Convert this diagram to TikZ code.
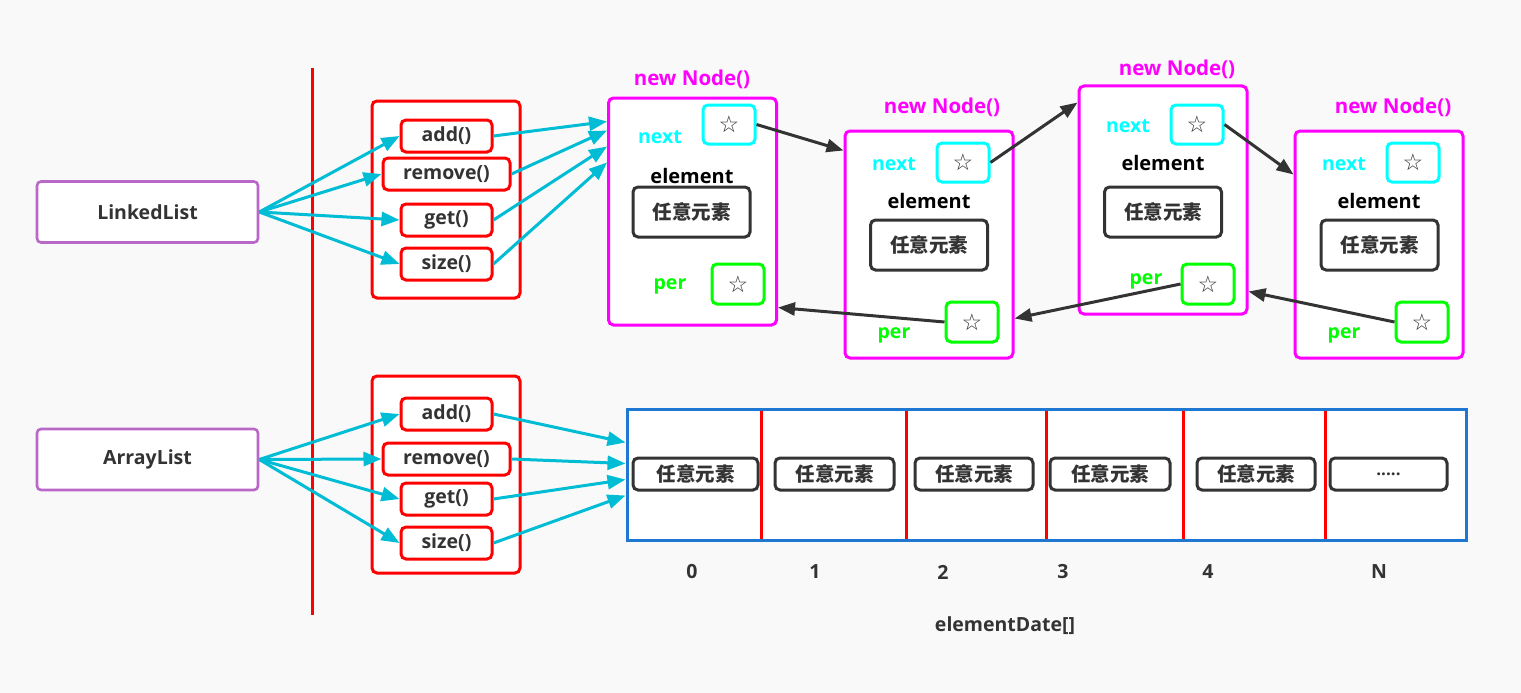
\documentclass[tikz,border=0pt]{standalone}
\usepackage{fontspec}
\setmainfont{Open Sans}
\newfontfamily\cjk{Noto Sans CJK SC}
\newfontfamily\symf{DejaVu Sans}
\usetikzlibrary{arrows.meta,calc}
\definecolor{bgc}{HTML}{F9F9F9}
\definecolor{dk}{HTML}{333333}
\definecolor{cyl}{HTML}{00BCD4}
\definecolor{mag}{HTML}{FF00FF}
\definecolor{cyt}{HTML}{00FFFF}
\definecolor{grn}{HTML}{00FF00}
\definecolor{rd}{HTML}{FF0000}
\definecolor{pur}{HTML}{BA68C8}
\definecolor{blu}{HTML}{1E78D2}
\begin{document}
\begin{tikzpicture}[x=1pt,y=-1pt,
  base/.style={inner sep=0pt, font=\fontsize{19.5}{22}\selectfont\bfseries},
  classbox/.style={base, draw=pur, line width=2.6pt, rounded corners=4pt, fill=white, text=dk, minimum width=221pt, minimum height=61pt},
  cont/.style={draw=rd, line width=3pt, rounded corners=5pt, fill=white, minimum width=148pt, minimum height=197pt, inner sep=0pt},
  meth/.style={base, draw=rd, line width=3pt, rounded corners=5pt, fill=white, text=dk, minimum width=91pt, minimum height=32pt},
  nodebox/.style={draw=mag, line width=3pt, rounded corners=5pt, fill=white, minimum width=168pt, minimum height=227pt, inner sep=0pt},
  ttl/.style={base, text=mag, font=\fontsize{20.5}{22}\selectfont\bfseries},
  nxt/.style={base, text=cyt},
  prl/.style={base, text=grn},
  ell/.style={base, text=black, font=\fontsize{20}{22}\selectfont\bfseries},
  ptrN/.style={draw=cyt, line width=3pt, rounded corners=5pt, fill=white, minimum width=52pt, minimum height=39pt, inner sep=0pt, font=\symf\fontsize{23}{24}\selectfont, text=dk},
  ptrP/.style={ptrN, draw=grn, minimum height=40pt},
  elbox/.style={draw=dk, line width=3pt, rounded corners=5pt, fill=white, minimum width=117pt, minimum height=50pt, inner sep=0pt, text=dk, font=\cjk\fontsize{19.5}{22}\selectfont\bfseries},
  cell/.style={elbox, minimum height=32pt},
  idx/.style={base, text=dk},
  carr/.style={draw=cyl, line width=3pt, -{Triangle[length=18pt,width=14pt]}},
  darr/.style={draw=dk, line width=3pt, -{Triangle[length=17pt,width=13pt]}},
]
\fill[bgc] (0,0) rectangle (1521,693);
\useasboundingbox (0,0) rectangle (1521,693);

% separator
\draw[rd, line width=3pt] (312,68) -- (312,615);

% classes
\node[classbox] (LL) at (147.5,212) {LinkedList};
\node[classbox] (AL) at (147.5,459.5) {ArrayList};

% containers
\node[cont] (C1) at (446,199.5) {};
\node[cont] (C2) at (446,474.5) {};

\node[meth] (addT) at (446.5,136) {add()};
\node[meth, minimum width=127pt] (remT) at (446.5,174) {remove()};
\node[meth] (getT) at (446.5,220) {get()};
\node[meth] (sizT) at (446.5,264) {size()};

\node[meth] (addB) at (446.5,414) {add()};
\node[meth, minimum width=127pt] (remB) at (446.5,459) {remove()};
\node[meth] (getB) at (446.5,499) {get()};
\node[meth] (sizB) at (446.5,543) {size()};

% linked list nodes
\node[nodebox] (N1) at (692.5,211.5) {};
\node[nodebox] (N2) at (929,244.5) {};
\node[nodebox, minimum height=228pt] (N3) at (1163,200) {};
\node[nodebox] (N4) at (1379,244.5) {};

\node[ttl] (t1) at (692,79) {new Node()};
\node[ttl] (t2) at (942,107) {new Node()};
\node[ttl] (t3) at (1177,69) {new Node()};
\node[ttl] (t4) at (1393,107) {new Node()};

\node[nxt] (nl1) at (660,137) {next};
\node[nxt] (nl2) at (894,164) {next};
\node[nxt] (nl3) at (1128,126) {next};
\node[nxt] (nl4) at (1344,164) {next};

\node[ptrN] (nx1) at (729,124.5) {☆};
\node[ptrN] (nx2) at (963,162.5) {☆};
\node[ptrN] (nx3) at (1197,124.5) {☆};
\node[ptrN] (nx4) at (1413,162.5) {☆};

\node[ell] (el1) at (692,176) {element};
\node[ell] (el2) at (929,201) {element};
\node[ell] (el3) at (1163,163) {element};
\node[ell] (el4) at (1379,201) {element};

\node[elbox] (eb1) at (691.5,212) {任意元素};
\node[elbox] (eb2) at (929,245) {任意元素};
\node[elbox] (eb3) at (1163,212) {任意元素};
\node[elbox] (eb4) at (1379.5,245) {任意元素};

\node[prl] (pl1) at (670,286) {per};
\node[prl] (pl2) at (894,335) {per};
\node[prl] (pl3) at (1146,281) {per};
\node[prl] (pl4) at (1344,335) {per};

\node[ptrP] (pr1) at (738,284) {☆};
\node[ptrP] (pr2) at (972,322) {☆};
\node[ptrP] (pr3) at (1208,284) {☆};
\node[ptrP] (pr4) at (1422,322) {☆};

% array
\node[draw=blu, line width=3pt, fill=white, minimum width=839pt, minimum height=131pt, inner sep=0pt] (arr) at (1046.5,474.5) {};
\foreach \xx in {761,906,1046,1183,1325}{
  \draw[rd, line width=3pt] (\xx,410.5) -- (\xx,538.5);
}
\node[cell, minimum width=125pt] (e1) at (695.5,474) {任意元素};
\node[cell, minimum width=119pt] (e2) at (834.5,474) {任意元素};
\node[cell, minimum width=118pt] (e3) at (974,474) {任意元素};
\node[cell, minimum width=120pt] (e4) at (1110,474) {任意元素};
\node[cell, minimum width=118pt] (e5) at (1256,474) {任意元素};
\node[cell, minimum width=117pt, font=\fontsize{17}{18}\selectfont\bfseries] (e6) at (1388.5,474) {.....};

\node[idx] (i0) at (692,572) {0};
\node[idx] (i1) at (815,572) {1};
\node[idx] (i2) at (943,572) {2};
\node[idx] (i3) at (1063,572) {3};
\node[idx] (i4) at (1208,572) {4};
\node[idx] (iN) at (1379,572) {N};
\node[idx] (ed) at (1005,626) {elementDate[]};

% cyan connectors top
\draw[carr] (LL.east) -- (addT.west);
\draw[carr] (LL.east) -- (remT.west);
\draw[carr] (LL.east) -- (getT.west);
\draw[carr] (LL.east) -- (sizT.west);
\draw[carr] (addT.east) -- ([yshift=-25pt]N1.north west);
\draw[carr] (remT.east) -- ([yshift=-34pt]N1.north west);
\draw[carr] (getT.east) -- ([yshift=-50pt]N1.north west);
\draw[carr] (sizT.east) -- ([yshift=-66pt]N1.north west);

% cyan connectors bottom
\draw[carr] (AL.east) -- (addB.west);
\draw[carr] (AL.east) -- (remB.west);
\draw[carr] (AL.east) -- (getB.west);
\draw[carr] (AL.east) -- (sizB.west);
\draw[carr] (addB.east) -- ([yshift=-35pt]arr.north west);
\draw[carr] (remB.east) -- ([yshift=-56pt]arr.north west);
\draw[carr] (getB.east) -- ([yshift=-72pt]arr.north west);
\draw[carr] (sizB.east) -- ([yshift=-88pt]arr.north west);

% dark pointers
\draw[darr] (nx1.east) -- ([yshift=-21pt]N2.north west);
\draw[darr] (nx2.east) -- ([yshift=-18pt]N3.north west);
\draw[darr] (nx3.east) -- ([yshift=-45pt]N4.north west);
\draw[darr] (pr4.west) -- ([yshift=-207pt]N3.north east);
\draw[darr] (pr3.west) -- ([yshift=-189pt]N2.north east);
\draw[darr] (pr2.west) -- ([yshift=-211pt]N1.north east);
\end{tikzpicture}
\end{document}
